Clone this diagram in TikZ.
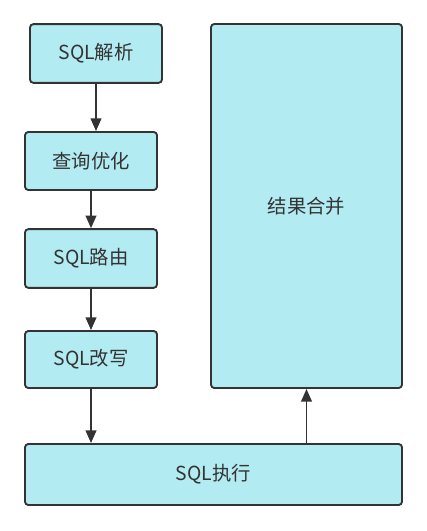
\documentclass[tikz,border=0pt]{standalone}
\usepackage{fontspec}
\usepackage{tikz}
\usetikzlibrary{arrows.meta}
\newfontfamily\cjk{Noto Sans CJK SC}

\definecolor{boxfill}{HTML}{B2EBF2}
\definecolor{boxline}{HTML}{333333}

\tikzset{
    stagebox/.style={draw=boxline, fill=boxfill, line width=1.4pt, rounded corners=2.5pt,
        text=boxline, font=\cjk\fontsize{14.5}{17}\selectfont, inner sep=0pt},
    flow/.style={draw=boxline, line width=1.4pt, -{Triangle[length=9.5pt,width=8pt]}}
}

\begin{document}
\begin{tikzpicture}[x=0.75pt, y=-0.75pt]
    \useasboundingbox (0, 0) rectangle (427, 531);
    % left column
    \node[stagebox, minimum width=99pt, minimum height=44pt] (parse) at (96, 53.5) {SQL解析};
    \node[stagebox, minimum width=99pt, minimum height=43.5pt] (optimize) at (91, 161) {查询优化};
    \node[stagebox, minimum width=99pt, minimum height=44pt] (route) at (91, 258.5) {SQL路由};
    \node[stagebox, minimum width=99pt, minimum height=42.75pt] (rewrite) at (91, 359.5) {SQL改写};
    % right and bottom
    \node[stagebox, minimum width=143.25pt, minimum height=273pt] (merge) at (306.5, 206) {结果合并};
    \node[stagebox, minimum width=282.75pt, minimum height=45.75pt] (execute) at (213.5, 474.5) {SQL执行};

    \draw[flow] (parse.south) -- (parse.south |- optimize.north);
    \draw[flow] (optimize.south) -- (route.north);
    \draw[flow] (route.south) -- (rewrite.north);
    \draw[flow] (rewrite.south) -- (rewrite.south |- execute.north);
    \draw[flow] (merge.south |- execute.north) -- (merge.south);
\end{tikzpicture}
\end{document}
